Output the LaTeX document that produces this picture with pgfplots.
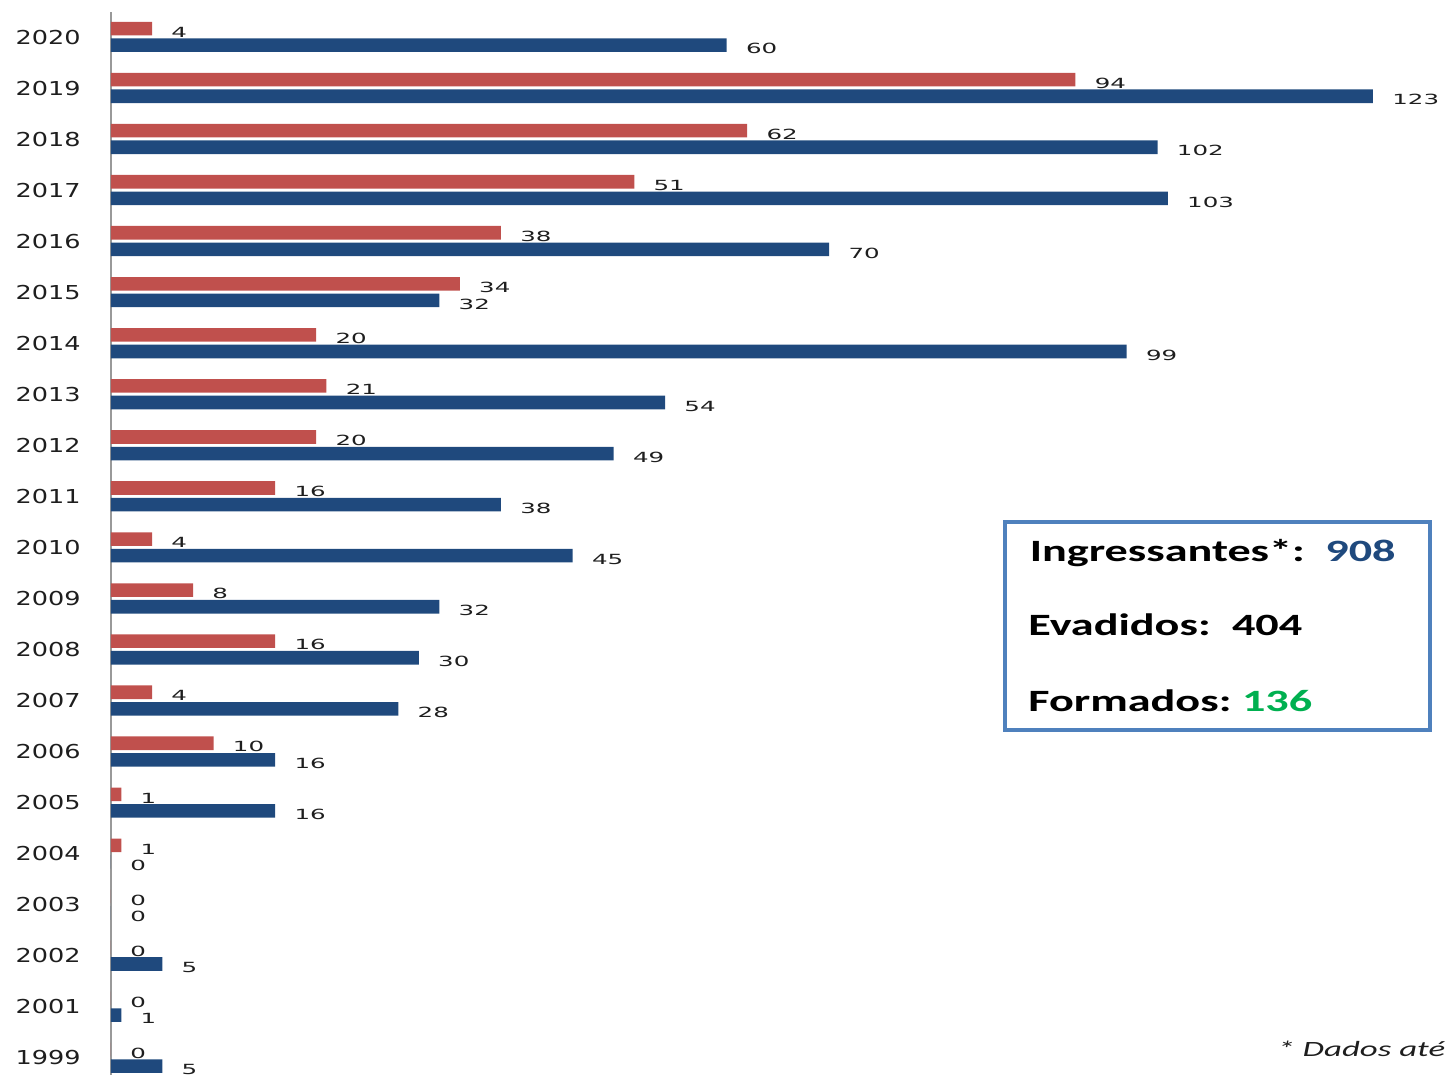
\documentclass[border=0pt]{standalone}
\usepackage{pgfplots}
\pgfplotsset{compat=1.18}
\usepackage{pgfplotstable}
\usepackage{fontspec}
\newfontfamily\yearf[FakeStretch=1.33]{DejaVu Sans}
\newfontfamily\valf[FakeStretch=1.75]{DejaVu Sans}
\newfontfamily\boxf[FakeStretch=1.49]{Carlito}
\newfontfamily\notef[FakeStretch=1.6]{Carlito}
\definecolor{evred}{RGB}{192,80,77}
\definecolor{ingblue}{RGB}{31,73,125}
\definecolor{boxblue}{RGB}{79,129,189}
\definecolor{formgreen}{RGB}{0,176,80}
\definecolor{txt}{RGB}{30,30,30}

\pgfplotstableread{
idx year ev ing
0 2020 4 60
1 2019 94 123
2 2018 62 102
3 2017 51 103
4 2016 38 70
5 2015 34 32
6 2014 20 99
7 2013 21 54
8 2012 20 49
9 2011 16 38
10 2010 4 45
11 2009 8 32
12 2008 16 30
13 2007 4 28
14 2006 10 16
15 2005 1 16
16 2004 1 0
17 2003 0 0
18 2002 0 5
19 2001 0 1
20 1999 0 5
}\datatable

\begin{document}
\begin{tikzpicture}
\begin{axis}[
  at={(55.5pt,-6pt)}, anchor=north west,
  scale only axis,
  width=666.9pt, height=531.4pt,
  xmin=0, xmax=130,
  ymin=-0.49, ymax=20.33,
  y dir=reverse,
  xbar, bar shift=0pt, bar width=6.8pt,
  separate axis lines,
  axis x line=none,
  axis y line*=left,
  y axis line style={-, draw=black!40, line width=1pt},
  ytick={0,...,20},
  yticklabels={2020,2019,2018,2017,2016,2015,2014,2013,2012,2011,2010,2009,2008,2007,2006,2005,2004,2003,2002,2001,1999},
  major tick length=0pt,
  ytick style={draw=none},
  /pgf/number format/assume math mode=true,
  yticklabel style={font=\yearf\fontsize{9.6}{11}\selectfont, text=txt, anchor=east, inner sep=0pt, xshift=-15pt},
  clip=false,
  nodes near coords,
  nodes near coords={\pgfmathprintnumber[assume math mode=true]{\pgfplotspointmeta}},
  point meta=x,
  every node near coord/.append style={font=\valf\fontsize{7}{8}\selectfont, text=txt, anchor=west, inner sep=0pt, xshift=9.5pt, yshift=-1.8pt},
]
\addplot[draw=none, fill=evred] table[x=ev, y expr=\thisrow{idx}-0.165] {\datatable};
\addplot[draw=none, fill=ingblue] table[x=ing, y expr=\thisrow{idx}+0.16] {\datatable};
\end{axis}

\draw[boxblue, line width=2pt, fill=white] (502.5pt,-261pt) rectangle (715pt,-365pt);
\begin{scope}[every node/.style={anchor=base west, inner sep=0pt, font=\boxf\bfseries\fontsize{15.5}{18}\selectfont}]
\node[text=black] at (514.7pt,-280.9pt) {Ingressantes*:};
\node[text=ingblue] at (662.5pt,-280.9pt) {908};
\node[text=black] at (514pt,-317.5pt) {Evadidos:};
\node[text=black] at (615.8pt,-317.5pt) {404};
\node[text=black] at (514pt,-355.8pt) {Formados:};
\node[text=formgreen] at (620.8pt,-355.8pt) {136};
\end{scope}
\node[anchor=base west, inner sep=0pt, text=txt, font=\notef\itshape\fontsize{10.9}{13}\selectfont] at (638.5pt,-528.3pt) {* Dados até};

\pgfresetboundingbox
\useasboundingbox (0,0) rectangle (723.5pt,-537.5pt);
\end{tikzpicture}
\end{document}
